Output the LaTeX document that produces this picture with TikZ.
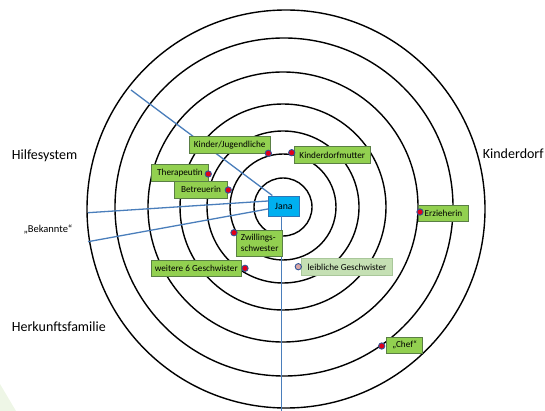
\documentclass[tikz,border=0pt]{standalone}
\usepackage{fontspec}
\setmainfont{Carlito}
\usetikzlibrary{arrows.meta}

\definecolor{boxgreen}{HTML}{92D050}
\definecolor{boxedge}{HTML}{5A7F45}
\definecolor{janafill}{HTML}{00B0F0}
\definecolor{janaedge}{HTML}{2E75B6}
\definecolor{linkblue}{HTML}{4A7EBB}
\definecolor{dotred}{HTML}{E0001B}
\definecolor{dotedge}{HTML}{2F5597}
\definecolor{leibfill}{HTML}{C5E0B4}
\definecolor{leibedge}{HTML}{A9C79A}
\definecolor{leibdot}{HTML}{D9A5A5}
\definecolor{cornergreen}{HTML}{EEF6E6}

\begin{document}
\begin{tikzpicture}[x=1pt, y=-1pt,
		ring/.style={draw=black, line width=1.4pt},
		link/.style={draw=linkblue, line width=1.3pt},
		greenbox/.style={draw=boxedge, fill=boxgreen, line width=0.9pt, inner sep=1pt,
			font=\fontsize{9.2}{10.5}\selectfont},
		reddot/.style={circle, draw=dotedge, fill=dotred, line width=0.9pt,
			minimum size=6.3pt, inner sep=0pt},
		sidelabel/.style={anchor=west, inner sep=0pt, font=\fontsize{14}{16}\selectfont}]
		
		\useasboundingbox (0,0) rectangle (545,411);
		
		% Corner
		\fill[cornergreen] (0,384) -- (16,411) -- (0,411) -- cycle;
		
		% Circles
		\draw[ring] (283,207) circle[radius=29pt];
		\draw[ring] (283,207) circle[radius=53pt];
		\draw[ring] (283,207) circle[radius=76pt];
		\draw[ring] (283,207) circle[radius=103pt];
		\draw[ring] (283,207) circle[radius=135pt];
		\draw[ring] (284,207) circle[radius=169pt];
		\draw[ring] (286,209) circle[radius=199pt];
		
		% Jana and the lines
		\node[draw=janaedge, fill=janafill, line width=0.9pt, minimum width=31pt, minimum height=20pt,
			inner sep=1pt, font=\fontsize{9.8}{11}\selectfont] (jana) at (283.8,206) {Jana};
		\coordinate (hsend) at (131,90);
		\coordinate (bkupper) at (88,212.7);
		\coordinate (bklower) at (88,241.7);
		\coordinate (bottomend) at (281.8,411);
		\draw[link] (hsend) -- ([xshift=4.5pt]jana.north west);
		\draw[link] (bkupper) -- ([yshift=5pt]jana.west);
		\draw[link] (bklower) -- ([yshift=-3pt]jana.west);
		\draw[link] ([xshift=-2pt]jana.south) -- (bottomend);
		
		% Boxes
		\node[greenbox, minimum width=80.7pt, minimum height=16.6pt] (kj) at (229.7,145) {Kinder/Jugendliche};
		\node[greenbox, minimum width=76.7pt, minimum height=16.6pt] (kdm) at (332.3,155) {Kinderdorfmutter};
		\node[greenbox, minimum width=56.6pt, minimum height=16.7pt] (thera) at (180,172.7) {Therapeutin};
		\node[greenbox, minimum width=53.4pt, minimum height=17.3pt] (betr) at (201,189.7) {Betreuerin};
		\node[greenbox, minimum width=46pt, minimum height=26pt, align=left] (zwilling) at (259.7,243) {Zwillings-\\schwester};
		\node[greenbox, minimum width=90.7pt, minimum height=16.7pt] (weitere) at (196.3,268.3) {weitere 6 Geschwister};
		\node[greenbox, draw=leibedge, fill=leibfill, minimum width=90.6pt, minimum height=17.4pt] (leiblich) at (347,267) {leibliche Geschwister};
		\node[greenbox, minimum width=50pt, minimum height=16pt] (erz) at (443.5,213.5) {Erzieherin};
		\node[greenbox, minimum width=36pt, minimum height=16pt] (chef) at (404.7,345.3) {„Chef“};
		
		% Dots
		\node[reddot] (kjdot) at (268.3,153.3) {};
		\node[reddot] (kdmdot) at (291.7,152.7) {};
		\node[reddot] (theradot) at (208.3,174) {};
		\node[reddot] (betrdot) at (228.3,190) {};
		\node[reddot] (zwillingdot) at (234,232.7) {};
		\node[reddot] (weiteredot) at (245,268.3) {};
		\node[reddot, fill=leibdot] (leiblichdot) at (298.3,266.7) {};
		\node[reddot] (erzdot) at (420,212) {};
		\node[reddot] (chefdot) at (381.7,346) {};
		
		% Side labels
		\node[sidelabel] (hilfe) at (11.7,155.5) {Hilfesystem};
		\node[sidelabel, font=\fontsize{10.5}{12}\selectfont] (bekannte) at (23.3,230) {„Bekannte“};
		\node[sidelabel] (herkunft) at (11.7,326.7) {Herkunftsfamilie};
		\node[sidelabel] (kinderdorf) at (482.7,153.5) {Kinderdorf};
		
	\end{tikzpicture}
\end{document}
